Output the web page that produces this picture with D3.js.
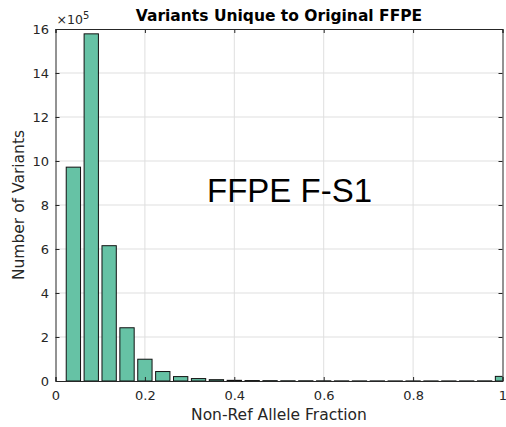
<!DOCTYPE html>
<html><head><meta charset="utf-8">
<script src="https://cdn.jsdelivr.net/npm/d3@7/dist/d3.min.js"></script>
<style>body{margin:0;background:#fff}svg{display:block}</style>
</head><body>
<script>
// Bin centers (Non-Ref Allele Fraction) and counts (in units of 1e5)
const binCenters = [0.04,0.08,0.12,0.16,0.20,0.24,0.28,0.32,0.36,0.40,0.44,0.48,0.52,0.56,0.60,0.64,0.68,0.72,0.76,0.80,0.84,0.88,0.92,0.96,1.00];
const counts = [9.72,15.78,6.15,2.42,0.99,0.43,0.2,0.11,0.06,0.03,0.02,0.015,0.01,0.01,0.008,0.006,0.005,0.005,0.004,0.004,0.004,0.004,0.005,0.006,0.21];
const xTicks = [0,0.2,0.4,0.6,0.8,1];
const yTicks = [0,2,4,6,8,10,12,14,16];
const binWidth = 0.04;

const W=506,H=427;
const m={l:55.5,r:502.5,t:29,b:381};
const svg=d3.select("body").append("svg").attr("width",W).attr("height",H);
const x=d3.scaleLinear().domain([0,1]).range([m.l,m.r]);
const y=d3.scaleLinear().domain([0,16]).range([m.b,m.t]);
const font="DejaVu Sans, sans-serif";
const grey="#262626";

// grid
svg.append("g").selectAll("line").data(xTicks.slice(1,-1)).join("line")
  .attr("x1",d=>x(d)).attr("x2",d=>x(d)).attr("y1",m.t).attr("y2",m.b)
  .attr("stroke","#dfdfdf").attr("stroke-width",1);
svg.append("g").selectAll("line").data(yTicks.slice(1,-1)).join("line")
  .attr("y1",d=>y(d)).attr("y2",d=>y(d)).attr("x1",m.l).attr("x2",m.r)
  .attr("stroke","#dfdfdf").attr("stroke-width",1);

// clip
svg.append("clipPath").attr("id","c").append("rect")
  .attr("x",m.l).attr("y",m.t).attr("width",m.r-m.l).attr("height",m.b-m.t);

// bars
const bw=binWidth*0.8;
svg.append("g").attr("clip-path","url(#c)").selectAll("rect").data(binCenters).join("rect")
  .attr("x",(d)=>x(d-bw/2)).attr("width",d=>x(d+bw/2)-x(d-bw/2))
  .attr("y",(d,i)=>y(counts[i])).attr("height",(d,i)=>y(0)-y(counts[i]))
  .attr("fill","#66c2a5").attr("stroke","#111").attr("stroke-width",1);

// axes
const xa=svg.append("g").attr("transform",`translate(0,${m.b})`)
  .call(d3.axisBottom(x).tickValues(xTicks).tickSize(-4).tickPadding(9.5).tickFormat(d=>d3.format("")(d)));
const xt=svg.append("g").attr("transform",`translate(0,${m.t})`)
  .call(d3.axisTop(x).tickValues(xTicks).tickSize(-4).tickFormat(""));
const ya=svg.append("g").attr("transform",`translate(${m.l},0)`)
  .call(d3.axisLeft(y).tickValues(yTicks).tickSize(-4).tickPadding(6.5));
const yr=svg.append("g").attr("transform",`translate(${m.r},0)`)
  .call(d3.axisRight(y).tickValues(yTicks).tickSize(-4).tickFormat(""));
[xa,xt,ya,yr].forEach(g=>{
  g.selectAll("path,line").attr("stroke",grey).attr("stroke-width",1);
  g.selectAll("text").attr("fill",grey).style("font-family",font).style("font-size","13px");
});

// exponent
const ex=svg.append("text").attr("x",m.l+1).attr("y",24).attr("fill",grey)
  .style("font-family",font).style("font-size","12.5px");
ex.append("tspan").text("×10");
ex.append("tspan").attr("dy",-5).style("font-size","10px").text("5");

// title
svg.append("text").attr("x",(m.l+m.r)/2).attr("y",21).attr("text-anchor","middle")
  .style("font-family",font).style("font-weight","bold").style("font-size","15.5px").attr("fill","#000")
  .text("Variants Unique to Original FFPE");

// axis labels
svg.append("text").attr("x",(m.l+m.r)/2).attr("y",420).attr("text-anchor","middle")
  .style("font-family",font).style("font-size","15.5px").attr("fill",grey).text("Non-Ref Allele Fraction");
svg.append("text").attr("transform",`translate(24,${(m.t+m.b)/2}) rotate(-90)`).attr("text-anchor","middle")
  .style("font-family",font).style("font-size","15.5px").attr("fill",grey).text("Number of Variants");

// annotation
svg.append("text").attr("x",207).attr("y",202).style("font-family","Liberation Sans, Arial, sans-serif")
  .style("font-size","33px").attr("fill","#000").text("FFPE F-S1");
</script>
</body></html>
